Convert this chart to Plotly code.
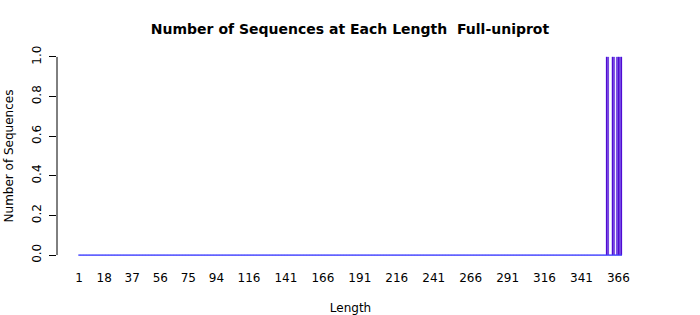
import plotly.graph_objects as go

# Data
lengths = list(range(1, 369))
observed_lengths = [358, 359, 362, 363, 365, 366, 367, 368]
counts = [observed_lengths.count(L) for L in lengths]

x_tick_values = [1, 18, 37, 56, 75, 94, 116, 141, 166, 191, 216, 241, 266, 291, 316, 341, 366]
y_tick_values = [0.0, 0.2, 0.4, 0.6, 0.8, 1.0]
y_tick_labels = ["0.0", "0.2", "0.4", "0.6", "0.8", "1.0"]

title_text = "<b>Number of Sequences at Each Length  Full-uniprot</b>"
x_title = "Length"
y_title = "Number of Sequences"

BAR_FILL = "#5a00c8"
BAR_EDGE = "#3c3cff"
FONT = "DejaVu Sans"

fig = go.Figure()

# baseline of zero-height bars (R draws their borders)
fig.add_trace(go.Scatter(
    x=[lengths[0] - 0.4, lengths[-1] + 0.4], y=[0, 0], mode="lines",
    line=dict(color=BAR_EDGE, width=1.3), hoverinfo="skip", showlegend=False,
))

fig.add_trace(go.Bar(
    x=lengths, y=counts,
    marker=dict(color=BAR_FILL, line=dict(color=BAR_EDGE, width=0.25)),
    showlegend=False,
))

fig.update_layout(
    width=700, height=315,
    margin=dict(l=57, r=56, t=49, b=52, autoexpand=False),
    paper_bgcolor="white", plot_bgcolor="white",
    bargap=0.15,
    font=dict(family=FONT, size=11, color="black"),
    title=dict(text=title_text, x=0.5, xanchor="center", y=0.908, yanchor="middle",
               font=dict(family=FONT, size=14, color="black")),
)

fig.update_xaxes(
    range=[-13.9, 383.3], automargin=False,
    tickmode="array", tickvals=x_tick_values, ticktext=[str(v) for v in x_tick_values],
    ticks="outside", ticklen=4, tickcolor="rgba(0,0,0,0)",
    showgrid=False, zeroline=False, showline=False,
    tickfont=dict(family=FONT, size=12, color="black"),
    title=dict(text=x_title, standoff=21, font=dict(family=FONT, size=12, color="black")),
)

fig.update_yaxes(
    range=[-0.04, 1.04], automargin=False,
    tickmode="array", tickvals=y_tick_values, ticktext=y_tick_labels,
    tickangle=-90, ticklabelstandoff=3,
    ticks="outside", ticklen=7, tickcolor="black", tickwidth=1,
    showgrid=False, zeroline=False, showline=False,
    tickfont=dict(family=FONT, size=12, color="black"),
    title=dict(text=y_title, standoff=14, font=dict(family=FONT, size=12, color="black")),
)

# y axis line spanning only the tick range (R style)
fig.add_shape(type="line", xref="paper", yref="y", x0=0, x1=0,
              y0=y_tick_values[0], y1=y_tick_values[-1],
              line=dict(color="black", width=1))

fig.write_html("out.html")
